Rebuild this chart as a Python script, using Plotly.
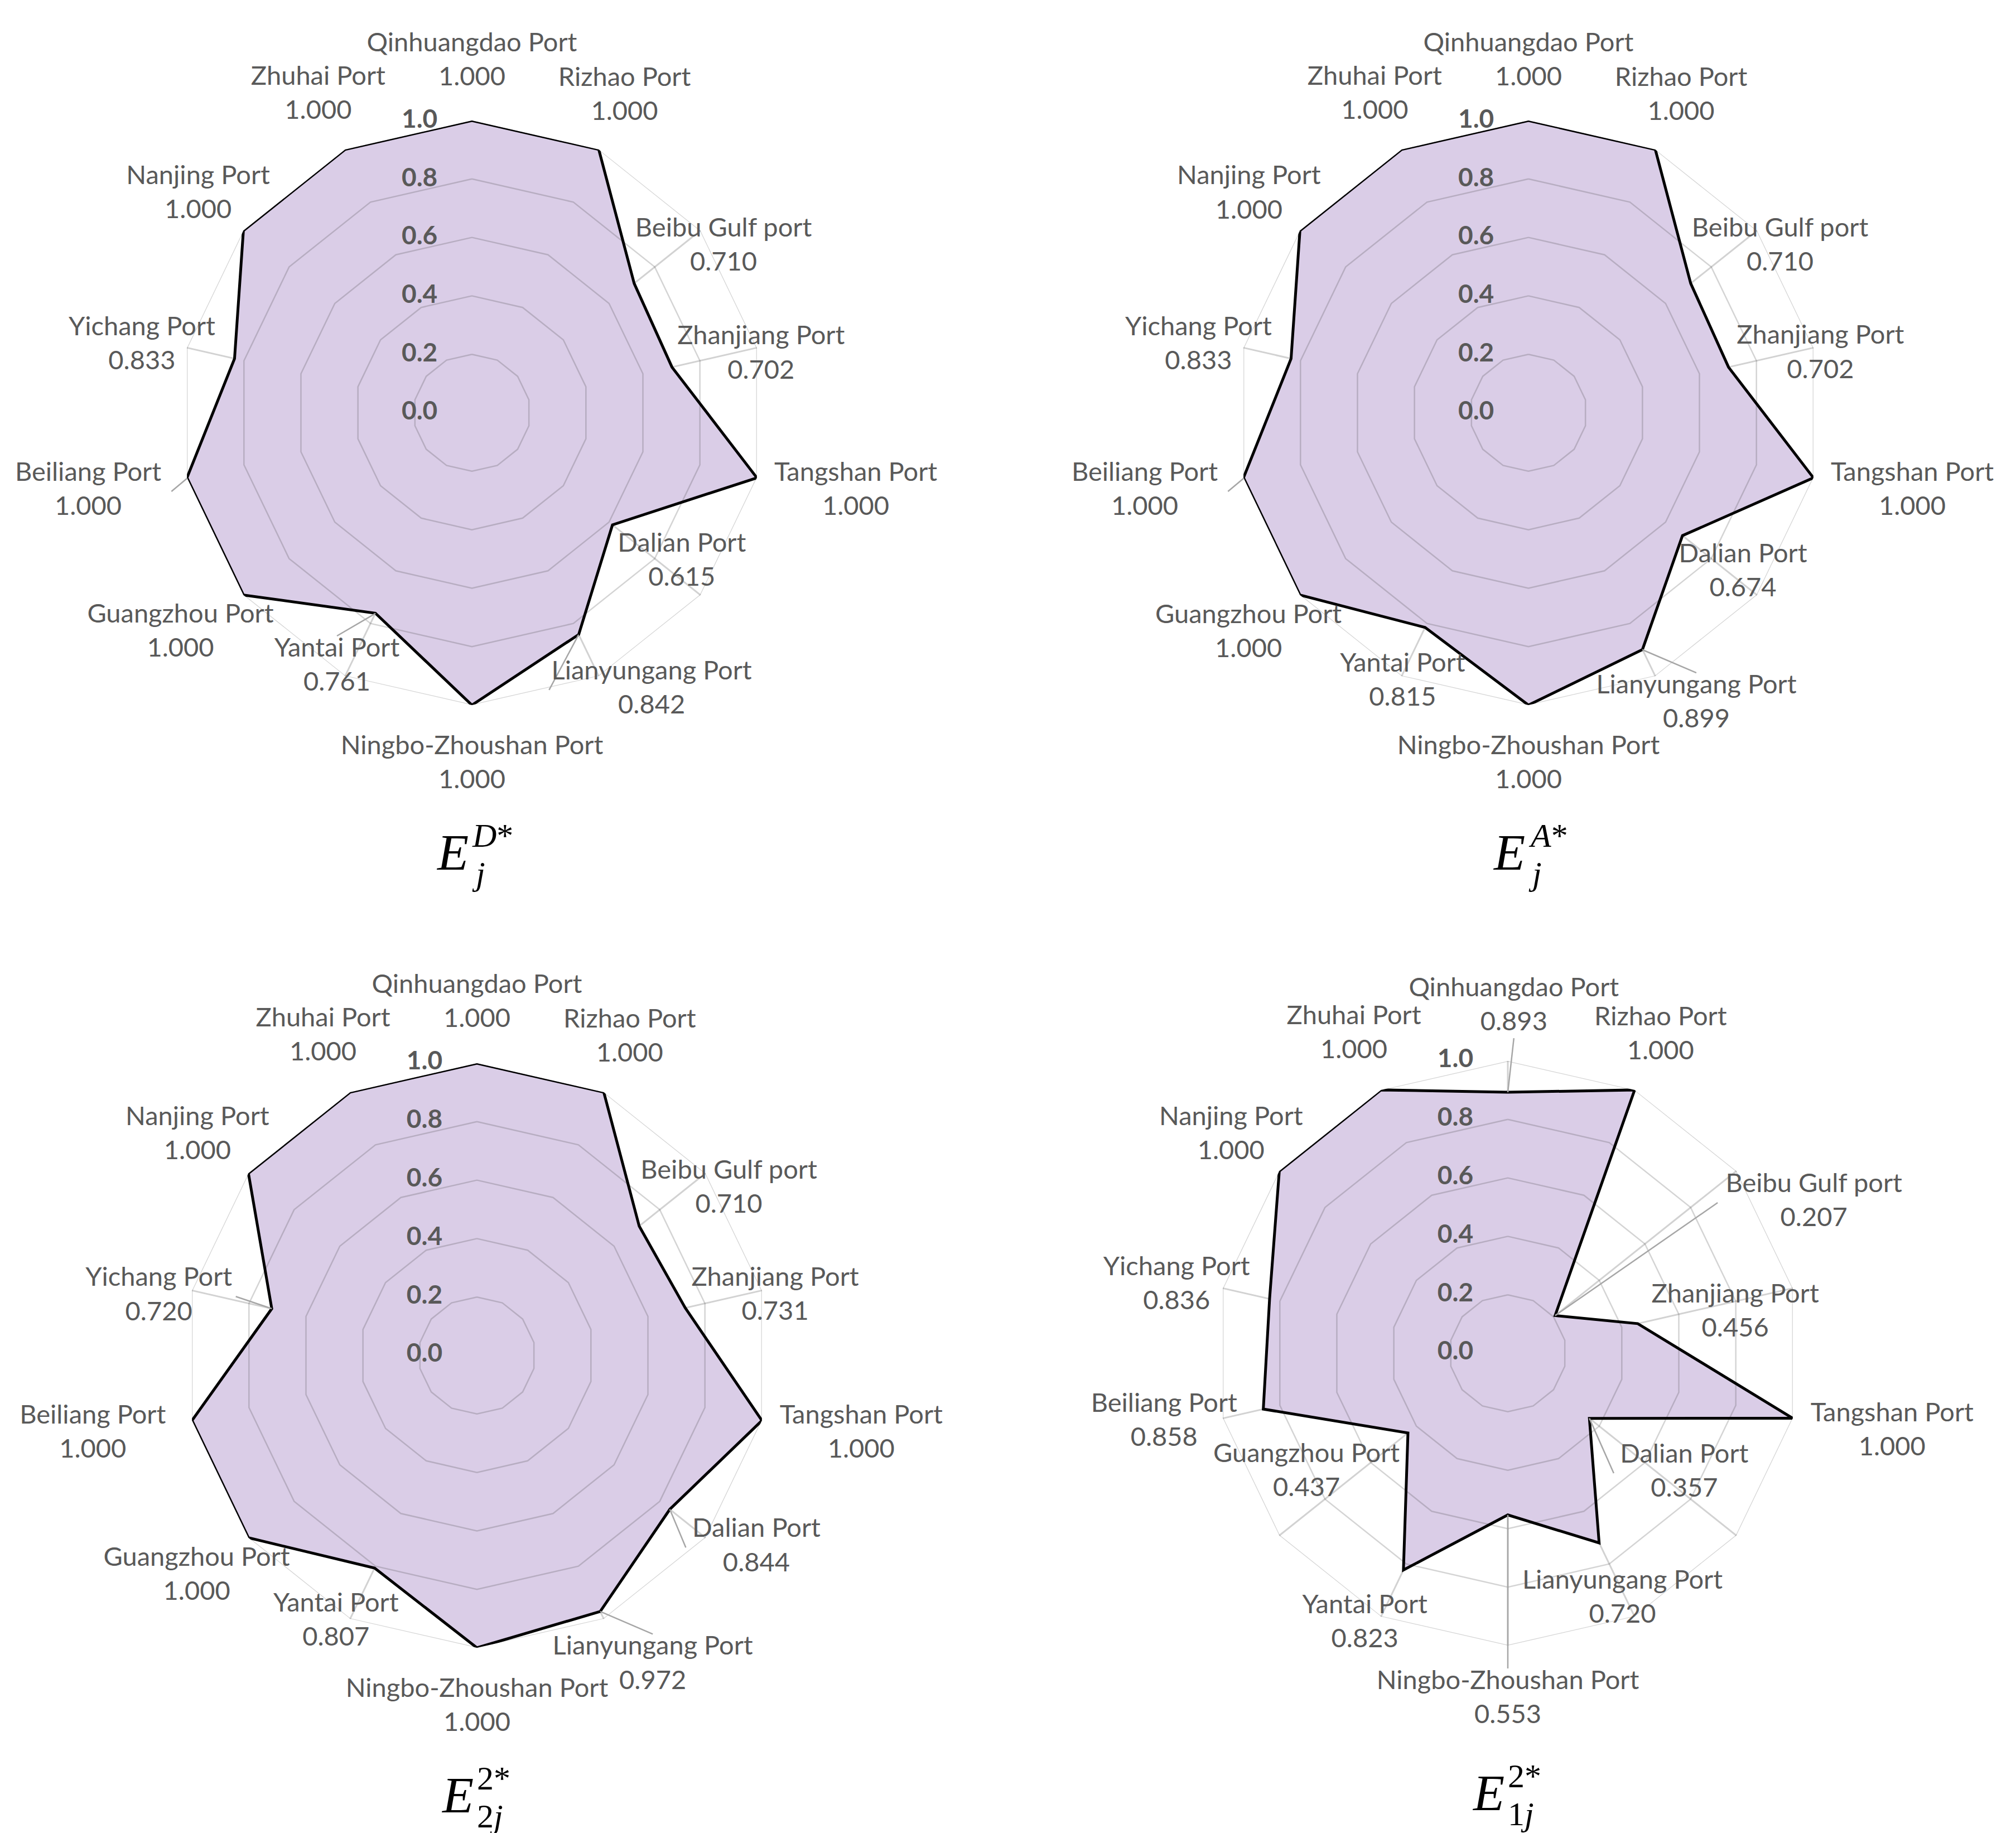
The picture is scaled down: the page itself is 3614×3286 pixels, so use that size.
import math
import plotly.graph_objects as go

# ---------------- data ----------------
categories = ["Qinhuangdao Port", "Rizhao Port", "Beibu Gulf port", "Zhanjiang Port",
              "Tangshan Port", "Dalian Port", "Lianyungang Port", "Ningbo-Zhoushan Port",
              "Yantai Port", "Guangzhou Port", "Beiliang Port", "Yichang Port",
              "Nanjing Port", "Zhuhai Port"]

E_D  = [1.000, 1.000, 0.710, 0.702, 1.000, 0.615, 0.842, 1.000, 0.761, 1.000, 1.000, 0.833, 1.000, 1.000]
E_A  = [1.000, 1.000, 0.710, 0.702, 1.000, 0.674, 0.899, 1.000, 0.815, 1.000, 1.000, 0.833, 1.000, 1.000]
E_2j = [1.000, 1.000, 0.710, 0.731, 1.000, 0.844, 0.972, 1.000, 0.807, 1.000, 1.000, 0.720, 1.000, 1.000]
E_1j = [0.893, 1.000, 0.207, 0.456, 1.000, 0.357, 0.720, 0.553, 0.823, 0.437, 0.858, 0.836, 1.000, 1.000]

series = [E_D, E_A, E_2j, E_1j]
title_sup = ["<i>D</i>*", "<i>A</i>*", "2*", "2*"]
title_sub = ["<i>j</i>", "<i>j</i>", "2<i>j</i>", "1<i>j</i>"]
radial_ticks = [0.0, 0.2, 0.4, 0.6, 0.8, 1.0]

# ---------------- layout / style ----------------
W, H = 3614, 3286
R = 524                     # polar radius in px
OV = 1.4                    # overlay (label layer) range factor
centers = [(838, 732), (2732, 732), (847, 2422), (2695, 2418)]

FILL = "rgb(218,205,231)"
GRID = "rgb(210,210,210)"            # spokes (under the fill)
RING = "rgba(60,60,60,0.22)"         # value rings (over the fill)
LEADER = "#A6A6A6"
TXT = "#595959"
FS = 47
CHARW = 23.0
HH = 64.0      # half height of a two-line label block
GAP = 43.0
TICK_DX = -94  # px offset of the value-axis labels from the axis

# manually moved data labels (label centre, in radius units / degrees)
common_override = {1: (1.205, 25.7), 13: (1.21, 334.2)}
label_override = [
    {3: (1.01, 78.6), 6: (1.13, 147.0), 9: (1.25, 233.0), 12: (1.20, 308.6)},
    {3: (1.02, 78.6), 5: (0.915, 126.6), 6: (1.15, 150.0), 8: (1.016, 205.1),
     9: (1.22, 231.8), 12: (1.215, 308.0)},
    {3: (1.04, 78.8), 5: (1.16, 124.5), 9: (1.22, 231.8), 11: (1.107, 280.5), 12: (1.217, 308.2)},
    {0: (1.185, 1.0), 2: (1.167, 63.8), 3: (0.79, 80.0), 5: (0.73, 124.2),
     6: (0.928, 155.0), 7: (1.185, 180.0), 9: (0.80, 239.4), 12: (1.205, 308.2)},
]
leaders = [[6, 8, 10], [6, 10], [5, 6, 11], [0, 2, 5, 7]]

n = len(categories)
thetas = [i * 360.0 / n for i in range(n)]


def to_xy(r, th):
    a = math.radians(th)
    return r * R * math.sin(a), r * R * math.cos(a)


def to_polar(x, y):
    return math.hypot(x, y) / R, math.degrees(math.atan2(x, y)) % 360


fig = go.Figure()
layout_polars = {}
annotations = []
closed_theta = categories + [categories[0]]

for k, vals in enumerate(series):
    cx, cy = centers[k]
    base = "polar" if k == 0 else f"polar{k + 1}"
    over = f"polar{k + 5}"
    dom = dict(x=[(cx - R) / W, (cx + R) / W], y=[1 - (cy + R) / H, 1 - (cy - R) / H])
    RO = R * OV
    dom_o = dict(x=[max(0, (cx - RO) / W), min(1, (cx + RO) / W)],
                 y=[max(0, 1 - (cy + RO) / H), min(1, 1 - (cy - RO) / H)])

    layout_polars[base] = dict(
        domain=dom, gridshape="linear", bgcolor="white", hole=0,
        angularaxis=dict(type="category", categoryorder="array", categoryarray=categories,
                         rotation=90, direction="clockwise", showticklabels=False, ticks="",
                         showgrid=True, gridcolor=GRID, gridwidth=2.5, showline=False),
        radialaxis=dict(range=[0, 1], angle=90, tickmode="array", tickvals=radial_ticks,
                        showticklabels=False, ticks="", showline=False, showgrid=False),
    )
    layout_polars[over] = dict(
        domain=dom_o, bgcolor="rgba(0,0,0,0)",
        angularaxis=dict(visible=False, rotation=90, direction="clockwise"),
        radialaxis=dict(visible=False, range=[0, OV]),
    )

    # filled radar area (opaque: hides the spokes)
    fig.add_trace(go.Scatterpolar(
        r=vals + [vals[0]], theta=closed_theta, mode="lines",
        fill="toself", fillcolor=FILL, line=dict(color="rgba(0,0,0,0)", width=0),
        subplot=base, hoverinfo="skip", showlegend=False))

    # value rings drawn over the fill
    for t in radial_ticks[1:]:
        fig.add_trace(go.Scatterpolar(
            r=[t] * (n + 1), theta=closed_theta, mode="lines",
            line=dict(color=RING, width=2.5), subplot=base,
            hoverinfo="skip", showlegend=False))

    # radar outline
    fig.add_trace(go.Scatterpolar(
        r=vals + [vals[0]], theta=closed_theta, mode="lines",
        line=dict(color="black", width=5), subplot=base,
        hoverinfo="skip", showlegend=False))

    # value-axis labels
    tk_r, tk_t = [], []
    for t in radial_ticks:
        rr, tt = to_polar(TICK_DX, t * R)
        tk_r.append(rr)
        tk_t.append(tt)
    fig.add_trace(go.Scatterpolar(
        r=tk_r, theta=tk_t, mode="text", text=[f"{t:.1f}" for t in radial_ticks],
        textposition="middle center",
        textfont=dict(family="Lato", size=46, color=TXT, weight="bold"),
        subplot=over, cliponaxis=False, hoverinfo="skip", showlegend=False))

    # data labels
    ov = dict(common_override)
    ov.update(label_override[k])
    lab_r, lab_t, lab_txt = [], [], []
    for i, (cat, v) in enumerate(zip(categories, vals)):
        th = thetas[i]
        px, py = to_xy(v, th)
        hw = len(cat) * CHARW / 2
        if i in ov:
            lr, lt = ov[i]
            lx, ly = to_xy(lr, lt)
        else:
            ux, uy = math.sin(math.radians(th)), math.cos(math.radians(th))
            lx = px + ux * (hw + GAP - 10)
            ly = py + uy * (HH + GAP)
        rr, tt = to_polar(lx, ly)
        lab_r.append(rr)
        lab_t.append(tt)
        lab_txt.append(f"{cat}<br>{v:.3f}")

        if i in leaders[k]:
            hh = HH - 8
            cands = [(lx - hw, ly), (lx + hw, ly), (lx, ly + hh), (lx, ly - hh)]
            ex, ey = min(cands, key=lambda c: (c[0] - px) ** 2 + (c[1] - py) ** 2)
            r0, t0 = to_polar(px, py)
            r1, t1 = to_polar(ex, ey)
            fig.add_trace(go.Scatterpolar(
                r=[r0, r1], theta=[t0, t1], mode="lines",
                line=dict(color=LEADER, width=2.5), subplot=over,
                cliponaxis=False, hoverinfo="skip", showlegend=False))

    fig.add_trace(go.Scatterpolar(
        r=lab_r, theta=lab_t, mode="text", text=lab_txt, textposition="middle center",
        textfont=dict(family="Lato", size=FS, color=TXT), subplot=over,
        cliponaxis=False, hoverinfo="skip", showlegend=False))

    # panel titles (E with stacked sub/superscript)
    ty = cy + 788
    ex_r = cx - 4
    annotations.append(dict(text="<i>E</i>", x=ex_r / W, y=1 - ty / H, xref="paper",
                            yref="paper", xanchor="right", yanchor="middle", showarrow=False,
                            font=dict(family="Liberation Serif", size=92, color="black")))
    annotations.append(dict(text=title_sup[k], x=(ex_r + 2) / W, y=1 - (ty - 30) / H,
                            xref="paper", yref="paper", xanchor="left", yanchor="middle",
                            showarrow=False,
                            font=dict(family="Liberation Serif", size=60, color="black")))
    annotations.append(dict(text=title_sub[k], x=(ex_r + 2) / W, y=1 - (ty + 38) / H,
                            xref="paper", yref="paper", xanchor="left", yanchor="middle",
                            showarrow=False,
                            font=dict(family="Liberation Serif", size=60, color="black")))

fig.update_layout(width=W, height=H, margin=dict(l=0, r=0, t=0, b=0),
                  paper_bgcolor="white", plot_bgcolor="white", showlegend=False,
                  annotations=annotations, **layout_polars)

fig.write_html("out.html")
